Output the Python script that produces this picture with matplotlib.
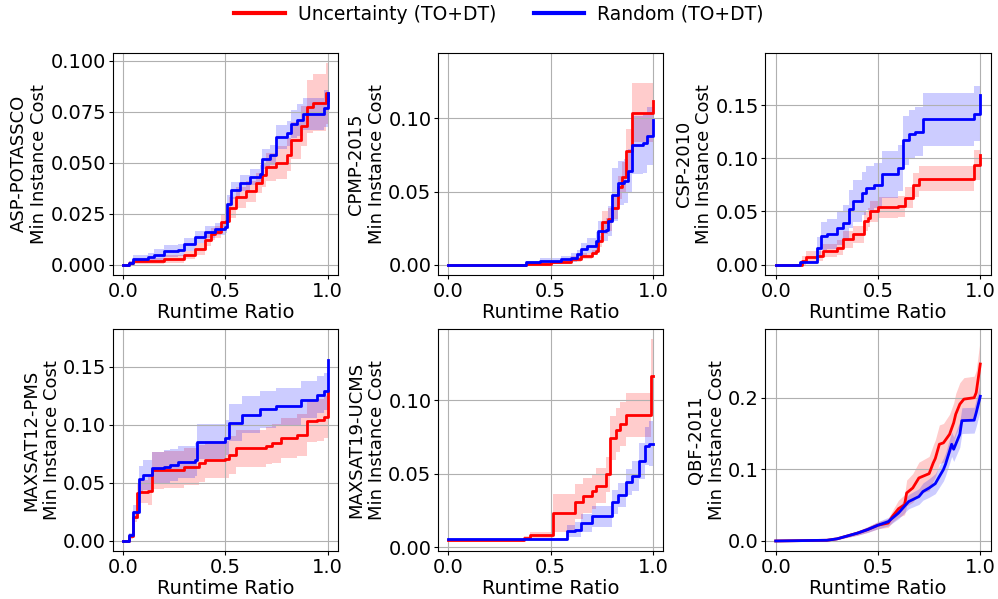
import matplotlib
matplotlib.use("Agg")
import matplotlib.pyplot as plt
from matplotlib.lines import Line2D
import numpy as np

# panel names (y-label first line)
names = ["ASP-POTASSCO", "CPMP-2015", "CSP-2010", "MAXSAT12-PMS", "MAXSAT19-UCMS", "QBF-2011"]

# ---- ASP-POTASSCO ----
asp_red_x = [0, 0.03, 0.05, 0.2, 0.3, 0.35, 0.4, 0.43, 0.45, 0.48, 0.505, 0.52, 0.55, 0.6, 0.65, 0.68, 0.7, 0.75, 0.8, 0.82, 0.87, 0.9, 0.93, 0.97, 0.99, 1.0]
asp_red = [0, 0.001, 0.002, 0.0028, 0.005, 0.0077, 0.012, 0.015, 0.016, 0.021, 0.0215, 0.028, 0.033, 0.036, 0.040, 0.044, 0.048, 0.050, 0.054, 0.061, 0.068, 0.0775, 0.0795, 0.0795, 0.084, 0.081]
asp_red_err = [0, 0.001, 0.0015, 0.002, 0.002, 0.003, 0.003, 0.003, 0.003, 0.004, 0.004, 0.005, 0.005, 0.005, 0.005, 0.006, 0.007, 0.008, 0.008, 0.009, 0.010, 0.013, 0.014, 0.014, 0.015, 0.016]
asp_blue_x = [0, 0.03, 0.05, 0.12, 0.15, 0.2, 0.27, 0.3, 0.35, 0.4, 0.45, 0.5, 0.51, 0.53, 0.57, 0.62, 0.67, 0.68, 0.72, 0.75, 0.8, 0.82, 0.85, 0.88, 0.95, 0.98, 1.0]
asp_blue = [0, 0.001, 0.003, 0.0036, 0.005, 0.0066, 0.0072, 0.010, 0.0135, 0.016, 0.0175, 0.0184, 0.030, 0.0365, 0.040, 0.043, 0.0447, 0.052, 0.0537, 0.0627, 0.0644, 0.069, 0.071, 0.074, 0.074, 0.0767, 0.084]
asp_blue_err = [0, 0.001, 0.002, 0.002, 0.003, 0.003, 0.003, 0.003, 0.003, 0.003, 0.003, 0.003, 0.004, 0.004, 0.004, 0.004, 0.004, 0.005, 0.005, 0.006, 0.006, 0.007, 0.008, 0.008, 0.008, 0.009, 0.009]

# ---- CPMP-2015 ----
cpmp_red_x = [0, 0.38, 0.5, 0.6, 0.65, 0.7, 0.72, 0.73, 0.75, 0.78, 0.8, 0.83, 0.85, 0.87, 0.9, 0.98, 1.0]
cpmp_red = [0, 0.0005, 0.0016, 0.004, 0.006, 0.0084, 0.0095, 0.016, 0.029, 0.031, 0.039, 0.053, 0.060, 0.078, 0.104, 0.104, 0.112]
cpmp_red_err = [0, 0.0005, 0.001, 0.002, 0.002, 0.002, 0.003, 0.004, 0.008, 0.008, 0.008, 0.008, 0.010, 0.015, 0.020, 0.020, 0.026]
cpmp_blue_x = [0, 0.38, 0.45, 0.55, 0.6, 0.63, 0.65, 0.68, 0.72, 0.73, 0.77, 0.78, 0.8, 0.83, 0.86, 0.88, 0.9, 0.95, 0.97, 1.0]
cpmp_blue = [0, 0.0016, 0.0027, 0.004, 0.005, 0.0073, 0.0107, 0.013, 0.0164, 0.023, 0.024, 0.030, 0.048, 0.056, 0.057, 0.064, 0.082, 0.083, 0.088, 0.099]
cpmp_blue_err = [0, 0.001, 0.002, 0.002, 0.003, 0.003, 0.004, 0.005, 0.006, 0.007, 0.008, 0.010, 0.018, 0.015, 0.015, 0.015, 0.020, 0.020, 0.020, 0.024]

# ---- CSP-2010 ----
csp_red_x = [0, 0.12, 0.13, 0.15, 0.2, 0.23, 0.3, 0.33, 0.38, 0.43, 0.45, 0.46, 0.5, 0.6, 0.63, 0.67, 0.7, 0.95, 0.97, 1.0]
csp_red = [0, 0, 0.0037, 0.0075, 0.008, 0.013, 0.016, 0.024, 0.0286, 0.041, 0.044, 0.050, 0.054, 0.055, 0.063, 0.075, 0.081, 0.081, 0.094, 0.103]
csp_red_err = [0, 0, 0.004, 0.005, 0.005, 0.006, 0.007, 0.008, 0.008, 0.009, 0.009, 0.010, 0.010, 0.010, 0.010, 0.011, 0.012, 0.012, 0.014, 0.016]
csp_blue_x = [0, 0.12, 0.2, 0.22, 0.25, 0.3, 0.33, 0.36, 0.38, 0.42, 0.44, 0.48, 0.52, 0.6, 0.62, 0.65, 0.68, 0.72, 0.93, 0.97, 1.0]
csp_blue = [0, 0.002, 0.016, 0.027, 0.029, 0.034, 0.039, 0.052, 0.060, 0.067, 0.072, 0.0745, 0.085, 0.091, 0.117, 0.123, 0.125, 0.137, 0.137, 0.142, 0.160]
csp_blue_err = [0, 0.001, 0.010, 0.013, 0.014, 0.016, 0.017, 0.018, 0.020, 0.020, 0.021, 0.021, 0.022, 0.022, 0.023, 0.023, 0.023, 0.025, 0.025, 0.026, 0.030]

# ---- MAXSAT12-PMS ----
ms12_red_x = [0, 0.02, 0.03, 0.05, 0.07, 0.08, 0.12, 0.14, 0.2, 0.3, 0.37, 0.4, 0.5, 0.52, 0.55, 0.7, 0.73, 0.77, 0.85, 0.9, 0.95, 0.98, 1.0]
ms12_red = [0, 0, 0.004, 0.021, 0.041, 0.0425, 0.043, 0.061, 0.0612, 0.064, 0.067, 0.070, 0.0704, 0.074, 0.080, 0.082, 0.084, 0.0885, 0.091, 0.103, 0.104, 0.107, 0.129]
ms12_red_err = [0, 0, 0.002, 0.005, 0.008, 0.010, 0.012, 0.016, 0.016, 0.016, 0.016, 0.016, 0.016, 0.016, 0.016, 0.016, 0.017, 0.017, 0.018, 0.018, 0.018, 0.018, 0.018]
ms12_blue_x = [0, 0.02, 0.03, 0.05, 0.08, 0.1, 0.14, 0.2, 0.23, 0.27, 0.35, 0.36, 0.5, 0.52, 0.58, 0.67, 0.75, 0.87, 0.95, 0.98, 1.0]
ms12_blue = [0, 0, 0.005, 0.025, 0.053, 0.057, 0.063, 0.064, 0.0655, 0.068, 0.070, 0.0856, 0.089, 0.102, 0.1086, 0.1135, 0.116, 0.1216, 0.126, 0.129, 0.156]
ms12_blue_err = [0, 0, 0.002, 0.006, 0.012, 0.013, 0.014, 0.014, 0.014, 0.014, 0.014, 0.015, 0.015, 0.016, 0.016, 0.016, 0.016, 0.016, 0.016, 0.016, 0.018]

# ---- MAXSAT19-UCMS ----
ms19_red_x = [0, 0.37, 0.4, 0.51, 0.62, 0.66, 0.7, 0.72, 0.77, 0.79, 0.82, 0.84, 0.87, 0.99, 1.0]
ms19_red = [0.0048, 0.0064, 0.0084, 0.0234, 0.031, 0.035, 0.038, 0.042, 0.0495, 0.0745, 0.080, 0.0836, 0.0898, 0.1166, 0.1166]
ms19_red_err = [0.0005, 0.001, 0.002, 0.013, 0.012, 0.012, 0.012, 0.012, 0.012, 0.015, 0.015, 0.015, 0.015, 0.025, 0.025]
ms19_blue_x = [0, 0.58, 0.62, 0.65, 0.7, 0.8, 0.83, 0.87, 0.9, 0.93, 0.96, 0.98, 1.0]
ms19_blue = [0.0055, 0.011, 0.012, 0.0166, 0.021, 0.0307, 0.0355, 0.0445, 0.0484, 0.0586, 0.0689, 0.0705, 0.0705]
ms19_blue_err = [0.0005, 0.004, 0.005, 0.006, 0.007, 0.008, 0.008, 0.009, 0.010, 0.012, 0.013, 0.015, 0.015]

# ---- QBF-2011 ----
qbf_red_x = [0, 0.25, 0.3, 0.35, 0.4, 0.45, 0.5, 0.55, 0.57, 0.6, 0.63, 0.64, 0.67, 0.7, 0.75, 0.77, 0.78, 0.8, 0.82, 0.85, 0.87, 0.88, 0.9, 0.92, 0.97, 0.98, 1.0]
qbf_red = [0, 0.001, 0.003, 0.007, 0.011, 0.016, 0.022, 0.025, 0.034, 0.045, 0.0506, 0.067, 0.074, 0.088, 0.094, 0.109, 0.115, 0.135, 0.137, 0.149, 0.165, 0.177, 0.191, 0.198, 0.200, 0.207, 0.247]
qbf_red_err = [0, 0, 0.001, 0.002, 0.003, 0.004, 0.005, 0.006, 0.008, 0.012, 0.014, 0.018, 0.020, 0.022, 0.024, 0.025, 0.026, 0.027, 0.027, 0.028, 0.028, 0.029, 0.030, 0.030, 0.030, 0.031, 0.035]
qbf_blue_x = [0, 0.25, 0.3, 0.35, 0.4, 0.45, 0.5, 0.55, 0.6, 0.65, 0.7, 0.72, 0.75, 0.78, 0.8, 0.82, 0.83, 0.85, 0.86, 0.87, 0.9, 0.91, 0.97, 0.98, 1.0]
qbf_blue = [0, 0.001, 0.003, 0.007, 0.011, 0.016, 0.022, 0.027, 0.039, 0.055, 0.062, 0.069, 0.074, 0.080, 0.090, 0.0998, 0.107, 0.1255, 0.135, 0.128, 0.149, 0.168, 0.1686, 0.179, 0.202]
qbf_blue_err = [0, 0, 0.001, 0.002, 0.003, 0.004, 0.005, 0.006, 0.008, 0.010, 0.011, 0.012, 0.013, 0.014, 0.015, 0.016, 0.016, 0.017, 0.017, 0.017, 0.018, 0.018, 0.018, 0.019, 0.020]

panels = [
    (asp_red_x, asp_red, asp_red_err, asp_blue_x, asp_blue, asp_blue_err, "%.3f", 0.025),
    (cpmp_red_x, cpmp_red, cpmp_red_err, cpmp_blue_x, cpmp_blue, cpmp_blue_err, "%.2f", 0.05),
    (csp_red_x, csp_red, csp_red_err, csp_blue_x, csp_blue, csp_blue_err, "%.2f", 0.05),
    (ms12_red_x, ms12_red, ms12_red_err, ms12_blue_x, ms12_blue, ms12_blue_err, "%.2f", 0.05),
    (ms19_red_x, ms19_red, ms19_red_err, ms19_blue_x, ms19_blue, ms19_blue_err, "%.2f", 0.05),
    (qbf_red_x, qbf_red, qbf_red_err, qbf_blue_x, qbf_blue, qbf_blue_err, "%.1f", 0.1),
]

plt.rcParams['font.size'] = 14
plt.rcParams['xtick.major.size'] = 3
plt.rcParams['ytick.major.size'] = 3
plt.rcParams['xtick.major.pad'] = 1.8
plt.rcParams['ytick.major.pad'] = 1.8
fig = plt.figure(figsize=(9.98, 5.99), dpi=100)

lefts = [0.113, 0.439, 0.767]
bottoms = [0.541, 0.080]
w, h = 0.2255, 0.371

axes = []
for i, (rx, ry, re, bx, by, be, fmt, step) in enumerate(panels):
    ax = fig.add_axes([lefts[i % 3], bottoms[i // 3], w, h])
    for x, y, e, c in [(rx, ry, re, 'red'), (bx, by, be, 'blue')]:
        x = np.array(x); y = np.array(y); e = np.array(e)
        if i == 5:
            ax.fill_between(x, y - e, y + e, color=c, alpha=0.2, lw=0)
            ax.plot(x, y, color=c, lw=2)
        else:
            ax.fill_between(x, y - e, y + e, color=c, alpha=0.2, lw=0, step='post')
            ax.plot(x, y, color=c, lw=2, drawstyle='steps-post')
    ax.grid(True)
    ax.set_xticks([0, 0.5, 1.0])
    ax.yaxis.set_major_locator(plt.MultipleLocator(step))
    ax.yaxis.set_major_formatter(matplotlib.ticker.FormatStrFormatter(fmt))
    ax.set_xlabel("Runtime Ratio", labelpad=1.5)
    ax.set_ylabel(names[i] + "\nMin Instance Cost", labelpad=1.5, fontsize=13)
    axes.append(ax)

fig.align_ylabels(axes)

handles = [Line2D([], [], color='red', lw=3), Line2D([], [], color='blue', lw=3)]
fig.legend(handles, ["Uncertainty (TO+DT)", "Random (TO+DT)"], loc='upper center',
           bbox_to_anchor=(0.5, 1.02), ncol=2, frameon=False, columnspacing=2.0,
           handlelength=2.7, handletextpad=0.7, fontsize=13.5)

fig.savefig("out.png", dpi=100)
